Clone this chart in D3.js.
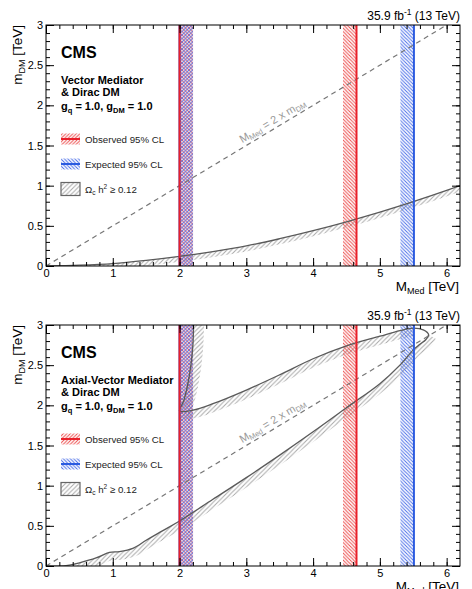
<!DOCTYPE html>
<html><head><meta charset="utf-8">
<script src="https://cdn.jsdelivr.net/npm/d3@7"></script>
<style>body{margin:0;background:#fff}svg{font-family:"Liberation Sans",Arial,sans-serif}</style>
</head><body><svg id="c" width="472" height="589"></svg>
<script>
// ---------------- data ----------------
const xMajorTicks=[0,1,2,3,4,5,6];
const yMajorTicks=[0,0.5,1,1.5,2,2.5,3];
const yTickLabels=["0","0.5","1","1.5","2","2.5","3"];
const panelTitles=[["Vector Mediator","& Dirac DM"],["Axial-Vector Mediator","& Dirac DM"]];
const lumiText="35.9 fb";
const legendLabels=["Observed 95% CL","Expected 95% CL"];
// relic density contour, vector panel (M_Med, m_DM) in TeV
const relicVector=[[0,0],[0.5,0.01],[1,0.03],[1.5,0.07],[2,0.12],[2.5,0.18],[3,0.25],[3.5,0.34],[4,0.44],[4.5,0.55],[5,0.67],[5.5,0.8],[6,0.94],[6.2,1.0]];
// relic density contour, axial-vector panel
const relicAxialVert=[[2.21,3.0],[2.2,2.75],[2.17,2.5],[2.12,2.25],[2.06,2.05],[2.0,1.93]];
const relicAxialUpper=[[2.0,1.93],[2.2,1.94],[2.5,2.02],[3.0,2.19],[3.5,2.38],[4.0,2.58],[4.5,2.74],[5.0,2.86],[5.3,2.93],[5.5,2.96],[5.65,2.94],[5.73,2.88]];
const relicAxialLower=[[5.73,2.88],[5.69,2.82],[5.6,2.76],[5.5,2.69],[5.3,2.5],[5.0,2.27],[4.5,1.97],[4.0,1.67],[3.5,1.38],[3.0,1.1],[2.5,0.83],[2.0,0.56],[1.75,0.44],[1.5,0.32],[1.3,0.22],[1.1,0.18],[0.95,0.17],[0.75,0.1],[0.5,0.04],[0.3,0.005],[0,0]];
// exclusion boundaries in M_Med (TeV): [lower, upper]
const observedLimits=[2.0,4.65];
const expectedLimits=[2.0,5.51];
const diagonal=[[0,0],[6,3]];

// ---------------- layout ----------------
const L=46,R=460;
const panels=[{top:25,bottom:266},{top:325,bottom:566}];
const svg=d3.select("#c");
const defs=svg.append("defs");
function hatch(id,color,dir,sp,sw){
  const p=defs.append("pattern").attr("id",id).attr("patternUnits","userSpaceOnUse").attr("width",sp).attr("height",sp);
  const d=dir==="/"?`M${-sp/2},${sp/2} L${sp/2},${-sp/2} M0,${sp} L${sp},0 M${sp/2},${sp*1.5} L${sp*1.5},${sp/2}`
                   :`M${-sp/2},${sp/2} L${sp/2},${sp*1.5} M0,0 L${sp},${sp} M${sp/2},${-sp/2} L${sp*1.5},${sp/2}`;
  p.append("path").attr("d",d).attr("stroke",color).attr("stroke-width",sw).attr("fill","none");
}
const RED="#e8202a",BLUE="#2b5be0",GRAY="#5a5a5a";
hatch("hRedB","#ec4a4a","\\",3.5,0.95);
hatch("hRedF","#ec4a4a","/",3.5,0.95);
hatch("hBlueB","#4a6ee8","\\",3.5,0.95);
hatch("hBlueF","#4a6ee8","/",3.5,0.95);
hatch("hGray","#a8a8a8","/",4.5,1);

const x=d3.scaleLinear().domain([0,6.2]).range([L,R]);

function bandPath(pts,sign,w){
  const n=pts.length,q=[];
  for(let i=0;i<n;i++){
    const a=pts[Math.max(0,i-1)],b=pts[Math.min(n-1,i+1)];
    let tx=b[0]-a[0],ty=b[1]-a[1];const len=Math.hypot(tx,ty)||1;tx/=len;ty/=len;
    q.push([pts[i][0]+sign*w*(-ty),pts[i][1]+sign*w*tx]);
  }
  const ln=d3.line().curve(d3.curveCatmullRom);
  return ln(pts)+ln(q.reverse()).replace("M","L")+"Z";
}

panels.forEach((P,pi)=>{
  const y=d3.scaleLinear().domain([0,3]).range([P.bottom,P.top]);
  const g=svg.append("g");
  const cid="clip"+pi;
  defs.append("clipPath").attr("id",cid).append("rect").attr("x",L).attr("y",P.top).attr("width",R-L).attr("height",P.bottom-P.top);
  const pg=g.append("g").attr("clip-path",`url(#${cid})`);
  const toPx=d=>[x(d[0]),y(d[1])];
  const line=d3.line().curve(d3.curveCatmullRom);

  // relic hatch bands
  const bw=5.5;
  if(pi===0){
    pg.append("path").attr("d",bandPath(relicVector.map(toPx),1,bw)).attr("fill","url(#hGray)");
  } else {
    pg.append("path").attr("d",bandPath(relicAxialVert.map(toPx),-1,bw*1.9)).attr("fill","url(#hGray)");
    pg.append("path").attr("d",bandPath(relicAxialUpper.slice(0,10).map(toPx),1,bw*1.5)).attr("fill","url(#hGray)");
    pg.append("path").attr("d",bandPath(relicAxialLower.map(toPx),-1,bw*1.5)).attr("fill","url(#hGray)");
  }
  // exclusion bands
  const bandW=13.5;
  const yTop=P.top,yBot=P.bottom;
  pg.append("rect").attr("x",x(observedLimits[0])).attr("y",yTop).attr("width",bandW).attr("height",yBot-yTop).attr("fill","url(#hRedB)");
  pg.append("rect").attr("x",x(expectedLimits[0])).attr("y",yTop).attr("width",bandW).attr("height",yBot-yTop).attr("fill","url(#hBlueF)");
  pg.append("rect").attr("x",x(observedLimits[1])-bandW).attr("y",yTop).attr("width",bandW).attr("height",yBot-yTop).attr("fill","url(#hRedB)");
  pg.append("rect").attr("x",x(expectedLimits[1])-bandW).attr("y",yTop).attr("width",bandW).attr("height",yBot-yTop).attr("fill","url(#hBlueB)");

  // relic lines
  if(pi===0){
    pg.append("path").attr("d",line(relicVector.map(toPx))).attr("fill","none").attr("stroke",GRAY).attr("stroke-width",1.3);
  } else {
    const all=relicAxialVert.concat(relicAxialUpper.slice(1),relicAxialLower.slice(1));
    pg.append("path").attr("d",line(all.map(toPx))).attr("fill","none").attr("stroke",GRAY).attr("stroke-width",1.3);
  }
  // diagonal
  pg.append("path").attr("d",d3.line()(diagonal.map(toPx))).attr("stroke","#777").attr("stroke-width",1.2).attr("stroke-dasharray","5,4").attr("fill","none");
  const ang=-Math.atan((y(0)-y(0.5))/(x(1)-x(0)))*180/Math.PI;
  const lp=[x(3.45),y(3.45/2)];
  const lt=pg.append("text").attr("transform",`translate(${lp[0]},${lp[1]}) rotate(${ang})`).attr("dy",-4).attr("text-anchor","middle").attr("font-size",11).attr("fill","#999");
  lt.append("tspan").text("M");
  lt.append("tspan").text("Med").attr("font-size",7.5).attr("dy",2);
  lt.append("tspan").text(" = 2 x m").attr("dy",-2);
  lt.append("tspan").text("DM").attr("font-size",7.5).attr("dy",2);

  // limit lines
  [[expectedLimits,BLUE],[observedLimits,RED]].forEach(([lim,c])=>{
    lim.forEach(v=>pg.append("line").attr("x1",x(v)).attr("x2",x(v)).attr("y1",yTop).attr("y2",yBot).attr("stroke",c).attr("stroke-width",2));
  });

  // axes
  function ax(a,tx,ty){const gg=g.append("g").attr("transform",`translate(${tx},${ty})`).call(a);gg.select(".domain").remove();gg.selectAll("line").attr("stroke","#000");return gg;}
  const fmt=(v)=>yTickLabels[yMajorTicks.indexOf(v)];
  const minorX=d3.range(0,31).map(i=>i*0.2), minorY=d3.range(0,31).map(i=>i*0.1);
  ax(d3.axisBottom(x).tickValues(xMajorTicks).tickSizeInner(-8).tickSizeOuter(0).tickPadding(3).tickFormat(d3.format("d")),0,P.bottom);
  ax(d3.axisBottom(x).tickValues(minorX).tickSizeInner(-4).tickSizeOuter(0).tickFormat(""),0,P.bottom);
  ax(d3.axisTop(x).tickValues(xMajorTicks).tickSizeInner(-8).tickSizeOuter(0).tickFormat(""),0,P.top);
  ax(d3.axisTop(x).tickValues(minorX).tickSizeInner(-4).tickSizeOuter(0).tickFormat(""),0,P.top);
  ax(d3.axisLeft(y).tickValues(yMajorTicks).tickSizeInner(-8).tickSizeOuter(0).tickPadding(3).tickFormat(fmt),L,0);
  ax(d3.axisLeft(y).tickValues(minorY).tickSizeInner(-4).tickSizeOuter(0).tickFormat(""),L,0);
  ax(d3.axisRight(y).tickValues(yMajorTicks).tickSizeInner(-8).tickSizeOuter(0).tickFormat(""),R,0);
  ax(d3.axisRight(y).tickValues(minorY).tickSizeInner(-4).tickSizeOuter(0).tickFormat(""),R,0);
  g.selectAll(".tick text").attr("font-size",11).attr("fill","#000").attr("font-family","Liberation Sans, Arial, sans-serif");
  g.append("rect").attr("x",L).attr("y",P.top).attr("width",R-L).attr("height",P.bottom-P.top).attr("fill","none").attr("stroke","#000").attr("stroke-width",1);

  // axis titles
  const xt=g.append("text").attr("x",459).attr("y",P.bottom+25).attr("text-anchor","end").attr("font-size",13.5);
  xt.append("tspan").text("M");xt.append("tspan").text("Med").attr("font-size",9).attr("dy",3);xt.append("tspan").text(" [TeV]").attr("dy",-3);
  const ytt=g.append("text").attr("transform",`translate(22,${P.top}) rotate(-90)`).attr("text-anchor","end").attr("font-size",13.5);
  ytt.append("tspan").text("m");ytt.append("tspan").text("DM").attr("font-size",9).attr("dy",3);ytt.append("tspan").text(" [TeV]").attr("dy",-3);

  // lumi
  const lu=g.append("text").attr("x",460).attr("y",P.top-5).attr("text-anchor","end").attr("font-size",12);
  lu.append("tspan").text(lumiText);lu.append("tspan").text("-1").attr("font-size",8.5).attr("dy",-5);lu.append("tspan").text(" (13 TeV)").attr("dy",5);

  // CMS & titles
  g.append("text").attr("x",61).attr("y",P.top+33).attr("font-size",16).attr("font-weight","bold").text("CMS");
  panelTitles[pi].forEach((t,i)=>g.append("text").attr("x",61).attr("y",P.top+59+i*11.5).attr("font-size",11).attr("font-weight","bold").text(t));
  const gt=g.append("text").attr("x",61).attr("y",P.top+85).attr("font-size",11).attr("font-weight","bold");
  gt.append("tspan").text("g");gt.append("tspan").text("q").attr("font-size",7.5).attr("dy",3);
  gt.append("tspan").text(" = 1.0, g").attr("dy",-3);gt.append("tspan").text("DM").attr("font-size",7.5).attr("dy",3);
  gt.append("tspan").text(" = 1.0").attr("dy",-3);

  // legend
  const lx=61,sw=19,sh=11;
  const items=[{c:RED,pat:"hRedF",label:legendLabels[0],cy:P.top+114},{c:BLUE,pat:"hBlueB",label:legendLabels[1],cy:P.top+139}];
  items.forEach(it=>{
    g.append("rect").attr("x",lx).attr("y",it.cy-sh/2).attr("width",sw).attr("height",sh).attr("fill",`url(#${it.pat})`);
    g.append("line").attr("x1",lx).attr("x2",lx+sw).attr("y1",it.cy).attr("y2",it.cy).attr("stroke",it.c).attr("stroke-width",2);
    g.append("text").attr("x",85).attr("y",it.cy+3.5).attr("font-size",9.7).attr("fill","#222").text(it.label);
  });
  const oy=P.top+164;
  g.append("rect").attr("x",lx).attr("y",oy-sh/2-1).attr("width",sw).attr("height",sh+2).attr("fill","url(#hGray)").attr("stroke","#666").attr("stroke-width",1.2);
  const ot=g.append("text").attr("x",85).attr("y",oy+3.5).attr("font-size",9.7).attr("fill","#222");
  ot.append("tspan").text("Ω");ot.append("tspan").text("c").attr("font-size",6.5).attr("dy",2);
  ot.append("tspan").text(" h").attr("dy",-2);ot.append("tspan").text("2").attr("font-size",6.5).attr("dy",-4);
  ot.append("tspan").text(" ≥ 0.12").attr("dy",4);
});
</script></body></html>
